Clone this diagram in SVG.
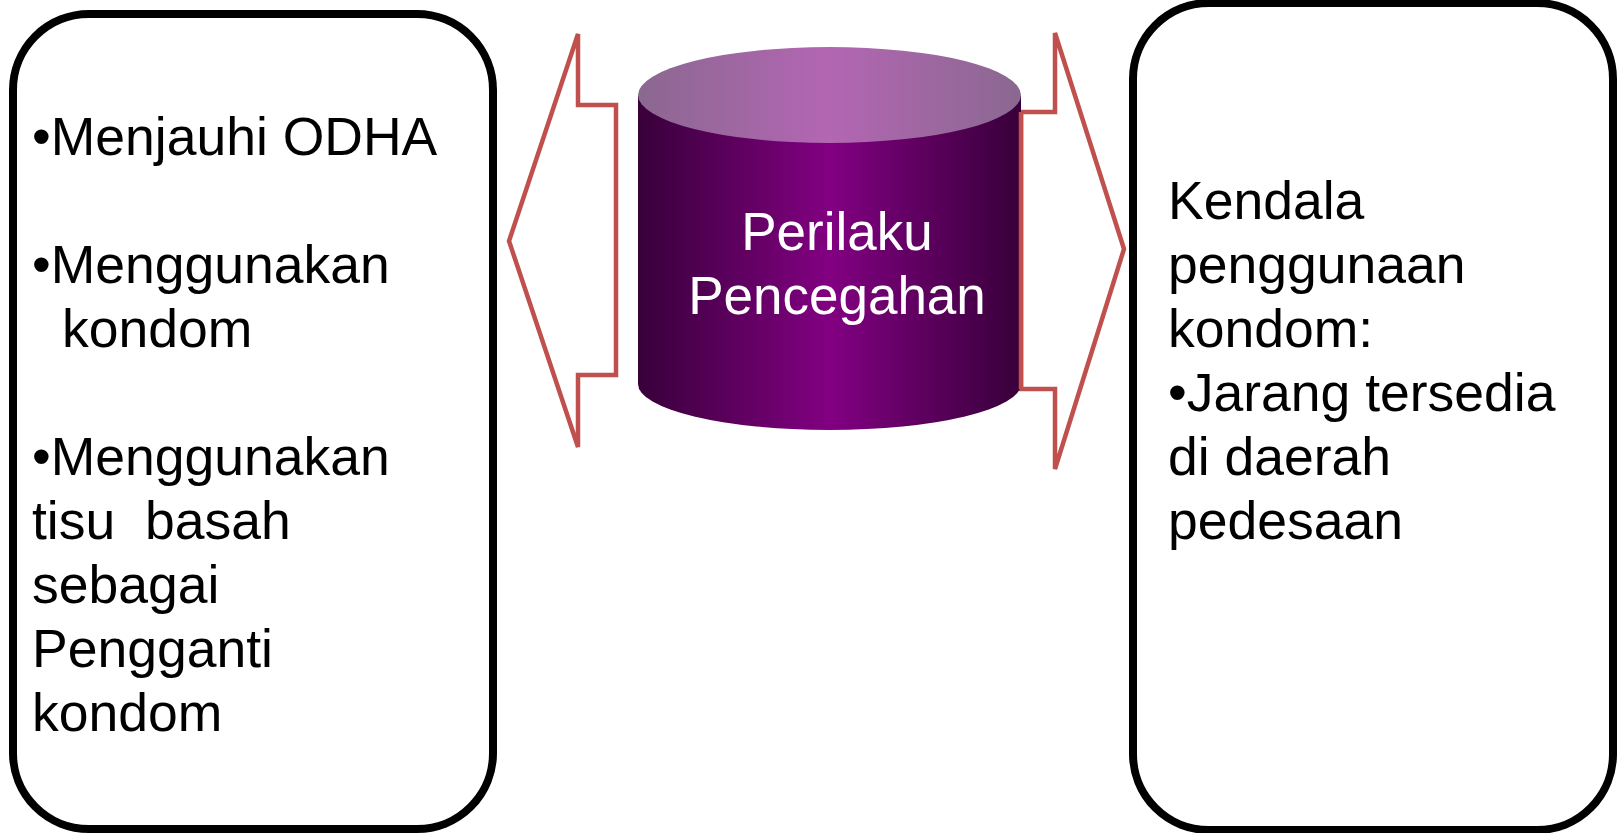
<svg xmlns="http://www.w3.org/2000/svg" width="1621" height="833" viewBox="0 0 1621 833">
<style>
.box{fill:#fff;stroke:#000;stroke-width:8}
.arrow{fill:#fff;stroke:#C0504D;stroke-width:4.5;stroke-linejoin:miter}
.t{font-family:"Liberation Sans",Arial,sans-serif;font-size:53.5px;fill:#000}
.w{font-family:"Liberation Sans",Arial,sans-serif;font-size:53px;fill:#fff;text-anchor:middle}
</style>
<defs>
<linearGradient id="body" x1="0" y1="0" x2="1" y2="0">
<stop offset="0" stop-color="#38003A"/>
<stop offset="0.5" stop-color="#820082"/>
<stop offset="1" stop-color="#38003A"/>
</linearGradient>
<linearGradient id="top" x1="0" y1="0" x2="1" y2="0">
<stop offset="0" stop-color="#8A6890"/>
<stop offset="0.5" stop-color="#B366B3"/>
<stop offset="1" stop-color="#8A6890"/>
</linearGradient>
</defs>
<rect width="1621" height="833" fill="#fff"/>
<g id="left-box">
<rect class="box" x="13" y="14" width="480" height="815" rx="76" ry="76"/>
<text class="t" x="32" y="155">•Menjauhi ODHA</text>
<text class="t" x="32" y="283">•Menggunakan</text>
<text class="t" x="62" y="347">kondom</text>
<text class="t" x="32" y="475">•Menggunakan</text>
<text class="t" x="32" y="539" xml:space="preserve">tisu  basah</text>
<text class="t" x="32" y="603">sebagai</text>
<text class="t" x="32" y="667">Pengganti</text>
<text class="t" x="32" y="731">kondom</text>
</g>
<g id="right-box">
<rect class="box" x="1133" y="3" width="480" height="827" rx="76" ry="76"/>
<text class="t" x="1168" y="219">Kendala</text>
<text class="t" x="1168" y="283">penggunaan</text>
<text class="t" x="1168" y="347">kondom:</text>
<text class="t" x="1168" y="411">•Jarang tersedia</text>
<text class="t" x="1168" y="475">di daerah</text>
<text class="t" x="1168" y="539">pedesaan</text>
</g>
<g id="connectors">
<polygon class="arrow" points="616,105 578,105 578,34 509,241 578,447 578,375 616,375"/>
<polygon class="arrow" points="1021,112 1055,112 1055,33 1124,249 1055,469 1055,389 1021,389"/>
</g>
<g id="cylinder">
<path d="M638,96 L638,384 A191.5,46 0 0 0 1021,384 L1021,96 Z" fill="url(#body)"/>
<ellipse cx="829.5" cy="95" rx="191.5" ry="48" fill="url(#top)"/>
<line x1="1021" y1="112" x2="1021" y2="389" stroke="#C0504D" stroke-width="4.5"/>
<text class="w" x="837" y="250">Perilaku</text>
<text class="w" x="837" y="314">Pencegahan</text>
</g>
</svg>
